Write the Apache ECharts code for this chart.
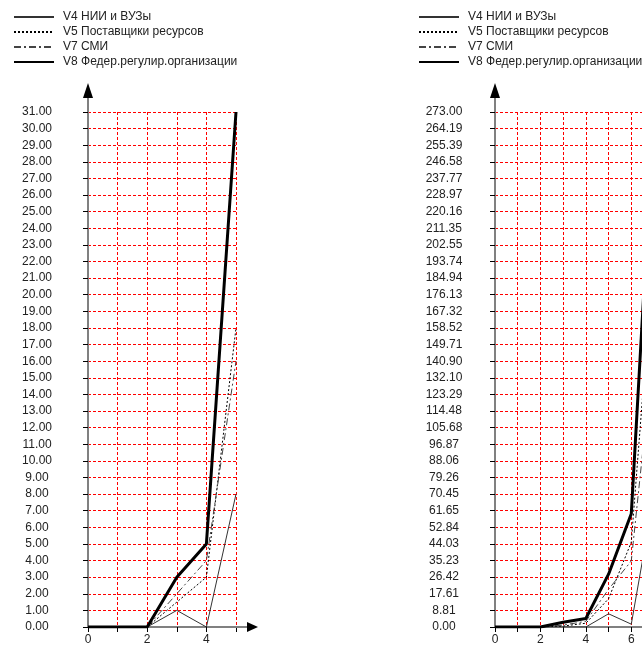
<!DOCTYPE html>
<html>
<head>
<meta charset="utf-8">
<script src="https://cdn.jsdelivr.net/npm/echarts@6/dist/echarts.min.js"></script>
<style>
html,body{margin:0;padding:0;background:#fff;overflow:hidden;}
#c{width:680px;height:646px;}
</style>
</head>
<body>
<div id="c"></div>
<script>
// ---- data ----
const seriesNames = ['V4 НИИ и ВУЗы', 'V5 Поставщики ресурсов', 'V7 СМИ', 'V8 Федер.регулир.организации'];

const xLeft = [0, 1, 2, 3, 4, 5];
const leftV4 = [0, 0, 0, 1, 0, 8];
const leftV5 = [0, 0, 0, 1.5, 3, 18];
const leftV7 = [0, 0, 0, 2, 4, 16];
const leftV8 = [0, 0, 0, 3, 5, 31];

const xRight = [0, 1, 2, 3, 4, 5, 6, 7];
const rightV4 = [0, 0, 0, 0, 0, 7, 1.5, 70];
const rightV5 = [0, 0, 0, 0.5, 2, 15, 45, 200];
const rightV7 = [0, 0, 0, 1, 3, 20, 35, 150];
const rightV8 = [0, 0, 0, 2.5, 4.5, 28, 60, 273];

const yMaxLeft = 31;
const yMaxRight = 273;
const ySteps = 31;
const xLabelTicks = [0, 2, 4, 6];

// ---- styles ----
const FONT = 'Liberation Sans, Arial, sans-serif';
const styles = [
  {color: '#333', width: 1, type: 'solid'},
  {color: '#000', width: 1, type: [2, 2]},
  {color: '#444', width: 1, type: [7, 3, 2, 3]},
  {color: '#000', width: 3, type: 'solid'}
];

function pairs(xs, ys) { return xs.map((x, i) => [x, ys[i]]); }

function makeX(idx, max) {
  return {
    type: 'value', gridIndex: idx, min: 0, max: max, interval: 1,
    axisLine: {show: true, onZero: false, lineStyle: {color: '#808080', width: 2}},
    axisTick: {show: true, length: 5, lineStyle: {color: '#000', width: 1}},
    axisLabel: {
      margin: 7, fontSize: 12, fontFamily: FONT, color: '#222',
      formatter: v => (xLabelTicks.indexOf(v) >= 0 ? String(v) : '')
    },
    splitLine: {show: true, lineStyle: {color: '#ff0000', width: 1, type: [3, 2]}}
  };
}
function makeY(idx, max) {
  return {
    type: 'value', gridIndex: idx, min: 0, max: max, interval: max / ySteps,
    axisLine: {show: true, onZero: false, lineStyle: {color: '#808080', width: 2}},
    axisTick: {show: true, length: 5, lineStyle: {color: '#000', width: 1}},
    axisLabel: {
      margin: 51, align: 'center', fontSize: 12, fontFamily: FONT, color: '#222',
      formatter: v => v.toFixed(2)
    },
    splitLine: {show: true, lineStyle: {color: '#ff0000', width: 1, type: [3, 2]}}
  };
}
function makeSeries(idx, xs, arrs) {
  return arrs.map((ys, i) => ({
    name: seriesNames[i], type: 'line', xAxisIndex: idx, yAxisIndex: idx,
    data: pairs(xs, ys), symbol: 'none', showSymbol: false,
    lineStyle: {color: styles[i].color, width: styles[i].width, type: styles[i].type},
    itemStyle: {color: styles[i].color},
    z: 3 + i
  }));
}
function makeLegend(left) {
  return {
    orient: 'vertical', left: left, top: 10, padding: 0,
    itemWidth: 40, itemHeight: 14, itemGap: 1,
    data: seriesNames.map(n => ({name: n})),
    itemStyle: {opacity: 0},
    textStyle: {fontSize: 12, fontFamily: FONT, color: '#222', padding: [0, 0, 0, 4], lineHeight: 14},
    selectedMode: false
  };
}

const chart = echarts.init(document.getElementById('c'), null, {renderer: 'canvas'});
chart.setOption({
  animation: false,
  backgroundColor: '#fff',
  legend: [makeLegend(13), makeLegend(418)],
  grid: [
    {left: 88, top: 112, width: 148, height: 518},
    {left: 495, top: 112, width: 159, height: 518}
  ],
  xAxis: [makeX(0, xLeft[xLeft.length - 1]), makeX(1, xRight[xRight.length - 1])],
  yAxis: [makeY(0, yMaxLeft), makeY(1, yMaxRight)],
  series: makeSeries(0, xLeft, [leftV4, leftV5, leftV7, leftV8])
    .concat(makeSeries(1, xRight, [rightV4, rightV5, rightV7, rightV8]))
});

// axis arrows computed from the axis geometry
const gfx = [];
[[0, xLeft[xLeft.length - 1], yMaxLeft], [1, xRight[xRight.length - 1], yMaxRight]].forEach(([i, xm, ym]) => {
  const o = chart.convertToPixel({xAxisIndex: i, yAxisIndex: i}, [0, 0]);
  const t = chart.convertToPixel({xAxisIndex: i, yAxisIndex: i}, [0, ym]);
  const r = chart.convertToPixel({xAxisIndex: i, yAxisIndex: i}, [xm, 0]);
  gfx.push({type: 'line', shape: {x1: o[0], y1: t[1], x2: o[0], y2: t[1] - 15}, style: {stroke: '#808080', lineWidth: 2}, z: 10});
  gfx.push({type: 'polygon', shape: {points: [[o[0], t[1] - 29], [o[0] - 5, t[1] - 14], [o[0] + 5, t[1] - 14]]}, style: {fill: '#000'}, z: 11});
  gfx.push({type: 'line', shape: {x1: r[0], y1: o[1], x2: r[0] + 13, y2: o[1]}, style: {stroke: '#808080', lineWidth: 2}, z: 10});
  gfx.push({type: 'polygon', shape: {points: [[r[0] + 22, o[1]], [r[0] + 11, o[1] - 5], [r[0] + 11, o[1] + 5]]}, style: {fill: '#000'}, z: 11});
});
chart.setOption({graphic: gfx});
</script>
</body>
</html>
